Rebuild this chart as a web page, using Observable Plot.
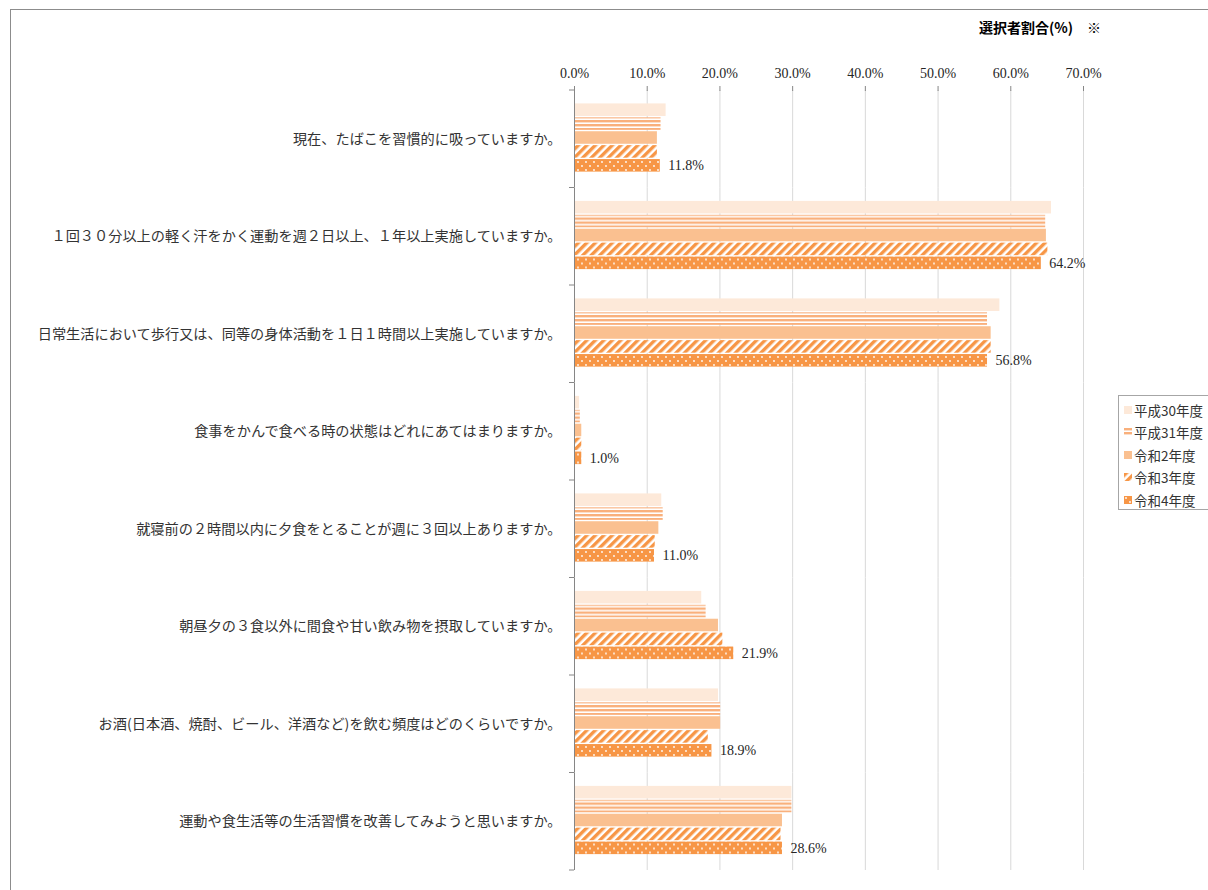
<!DOCTYPE html>
<html lang="ja">
<head>
<meta charset="utf-8">
<script src="https://cdn.jsdelivr.net/npm/d3@7"></script>
<script src="https://cdn.jsdelivr.net/npm/@observablehq/plot@0.6"></script>
<style>
  html, body { margin: 0; padding: 0; background: #fff; overflow: hidden; }
  #wrap { position: relative; width: 1208px; height: 890px; }
  #frame { position: absolute; left: 10px; top: 9px; width: 1300px; height: 1000px;
           border-top: 1px solid #8c8c8c; border-left: 1px solid #8c8c8c; }
  #title { position: absolute; right: 107px; top: 17px; font: bold 14px "Noto Sans CJK JP", sans-serif; color: #000; white-space: pre; }
  #chart { position: absolute; left: 0; top: 0; }
  #legend { position: absolute; left: 1118px; top: 395px; width: 120px; height: 113px;
            border: 1px solid #a6a6a6; background: #fff; font: 13.5px "Noto Sans CJK JP", sans-serif; color: #333; }
  #legend .item { position: absolute; left: 5px; height: 18px; line-height: 18px; display: flex; align-items: center; }
  #legend svg { margin-right: 2px; }
</style>
</head>
<body>
<div id="wrap">
  <div id="frame"></div>
  <div id="chart"></div>
  <div id="title">選択者割合(%)　※</div>
  <div id="legend"></div>
</div>
<script>
const questions = [
  "現在、たばこを習慣的に吸っていますか。",
  "１回３０分以上の軽く汗をかく運動を週２日以上、１年以上実施していますか。",
  "日常生活において歩行又は、同等の身体活動を１日１時間以上実施していますか。",
  "食事をかんで食べる時の状態はどれにあてはまりますか。",
  "就寝前の２時間以内に夕食をとることが週に３回以上ありますか。",
  "朝昼夕の３食以外に間食や甘い飲み物を摂取していますか。",
  "お酒(日本酒、焼酎、ビール、洋酒など)を飲む頻度はどのくらいですか。",
  "運動や食生活等の生活習慣を改善してみようと思いますか。"
];
const series = ["平成30年度", "平成31年度", "令和2年度", "令和3年度", "令和4年度"];
const valuesH30 = [12.6, 65.6, 58.5, 0.7, 12.0, 17.5, 19.8, 29.9];
const valuesH31 = [11.9, 64.8, 56.8, 0.8, 12.2, 18.1, 20.1, 29.9];
const valuesR2  = [11.4, 64.9, 57.3, 1.0, 11.6, 19.8, 20.1, 28.6];
const valuesR3  = [11.4, 65.1, 57.3, 1.0, 11.1, 20.4, 18.4, 28.4];
const valuesR4  = [11.8, 64.2, 56.8, 1.0, 11.0, 21.9, 18.9, 28.6];
const xTicks = [0, 10, 20, 30, 40, 50, 60, 70];

const allValues = [valuesH30, valuesH31, valuesR2, valuesR3, valuesR4];
const data = [];
questions.forEach((q, i) => {
  series.forEach((s, j) => data.push({q, s, v: allValues[j][i]}));
});

const fills = ["#FDE9D9", "url(#patH31)", "#FAC090", "url(#patR3)", "url(#patR4)"];
const numFont = '"Liberation Serif", "DejaVu Serif", serif';
const jpFont = '"Noto Sans CJK JP", sans-serif';

const plot = Plot.plot({
  width: 1208,
  height: 890,
  marginLeft: 574,
  marginRight: 125,
  marginTop: 90,
  marginBottom: 20,
  style: {background: "transparent", overflow: "visible", fontFamily: numFont, fontSize: "14px", color: "#262626"},
  x: {domain: [0, 70], axis: null},
  y: {domain: series, range: [103, 172], paddingInner: 0.04, paddingOuter: 0, round: false, axis: null},
  fy: {domain: questions, padding: 0, round: false, axis: null},
  color: {type: "ordinal", domain: series, range: fills},
  marks: [
    Plot.ruleX(xTicks.slice(1), {stroke: "#d9d9d9", strokeWidth: 1}),
    Plot.axisX({anchor: "top", ticks: xTicks, tickFormat: d => d.toFixed(1) + "%", tickSize: 5, tickPadding: 8,
                fontFamily: numFont, fontSize: 14, stroke: "#868686", label: null}),
    Plot.barX(data, {fy: "q", y: "s", x: "v", fill: "s", insetTop: 0.4, insetBottom: 0.4}),
    Plot.ruleX([0], {stroke: "#868686", strokeWidth: 1}),
    Plot.text(data.filter(d => d.s === "令和4年度"), {
      fy: "q", y: "s", x: "v", text: d => d.v.toFixed(1) + "%", textAnchor: "start", dx: 8,
      fontFamily: numFont, fontSize: 14, fill: "#262626"
    }),
    Plot.axisFy({anchor: "left", tickSize: 0, tickPadding: 13, label: null, fontFamily: jpFont, fontSize: 14.2, fill: "#333"})
  ]
});

document.getElementById("chart").appendChild(plot);

// pattern definitions
const svg = d3.select(plot);
const defs = svg.insert("defs", ":first-child");
const p1 = defs.append("pattern").attr("id", "patH31").attr("patternUnits", "userSpaceOnUse").attr("width", 8).attr("height", 4);
p1.append("rect").attr("width", 8).attr("height", 4).attr("fill", "#fff");
p1.append("rect").attr("width", 8).attr("height", 2.4).attr("fill", "#F9B07C");
const p2 = defs.append("pattern").attr("id", "patR3").attr("patternUnits", "userSpaceOnUse").attr("width", 6).attr("height", 6)
  .attr("patternTransform", "rotate(45)");
p2.append("rect").attr("width", 6).attr("height", 6).attr("fill", "#fff");
p2.append("rect").attr("width", 3.4).attr("height", 6).attr("fill", "#F79646");
const p3 = defs.append("pattern").attr("id", "patR4").attr("patternUnits", "userSpaceOnUse").attr("width", 8).attr("height", 8);
p3.append("rect").attr("width", 8).attr("height", 8).attr("fill", "#F79646");
p3.append("circle").attr("cx", 2).attr("cy", 2).attr("r", 0.9).attr("fill", "#fff");
p3.append("circle").attr("cx", 6).attr("cy", 6).attr("r", 0.9).attr("fill", "#fff");

// small ticks on the category axis at group boundaries
const fy = plot.scale("fy");
const x0 = plot.scale("x").apply(0);
const bounds = questions.map(q => fy.apply(q) + fy.bandwidth);
bounds.unshift(fy.apply(questions[0]));
svg.append("g").selectAll("line").data(bounds).join("line")
  .attr("x1", x0 - 5).attr("x2", x0).attr("y1", d => d).attr("y2", d => d)
  .attr("stroke", "#868686");

// legend
const legend = document.getElementById("legend");
series.forEach((s, i) => {
  const item = document.createElement("div");
  item.className = "item";
  item.style.top = (4.5 + i * 22.5) + "px";
  item.innerHTML = `<svg width="8" height="8"><rect width="8" height="8" fill="${fills[i]}"/></svg><span>${s}</span>`;
  legend.appendChild(item);
});
</script>
</body>
</html>
